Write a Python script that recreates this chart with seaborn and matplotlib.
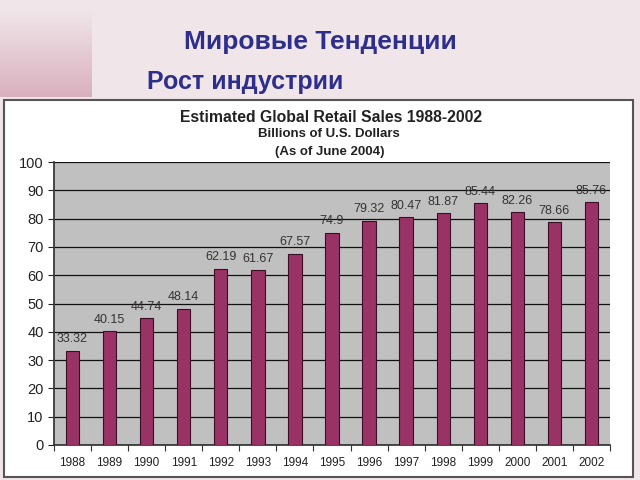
import numpy as np
import pandas as pd
import matplotlib
matplotlib.use("Agg")
import matplotlib.pyplot as plt
import seaborn as sns
from matplotlib.patches import Rectangle
from matplotlib import font_manager

years = ["1988", "1989", "1990", "1991", "1992", "1993", "1994", "1995",
         "1996", "1997", "1998", "1999", "2000", "2001", "2002"]
sales = [33.32, 40.15, 44.74, 48.14, 62.19, 61.67, 67.57, 74.9,
         79.32, 80.47, 81.87, 85.44, 82.26, 78.66, 85.76]
labels = ["33.32", "40.15", "44.74", "48.14", "62.19", "61.67", "67.57", "74.9",
          "79.32", "80.47", "81.87", "85.44", "82.26", "78.66", "85.76"]
yticks = [0, 10, 20, 30, 40, 50, 60, 70, 80, 90, 100]

df = pd.DataFrame({"year": years, "sales": sales})

sns.set_theme(style="white")
plt.rcParams['font.family'] = ['Liberation Sans', 'DejaVu Sans']

names = {f.name for f in font_manager.fontManager.ttflist}
narrow = "Liberation Sans Narrow" in names

W, H = 640, 480
fig = plt.figure(figsize=(6.4, 4.8), dpi=100)
bg = "#f0e6e9"
fig.patch.set_facecolor(bg)

# gradient block top-left
gax = fig.add_axes([0, 1 - 97 / H, 92 / W, 87 / H])
c0 = np.array(matplotlib.colors.to_rgb(bg))
c1 = np.array(matplotlib.colors.to_rgb("#d9b0bd"))
t = np.linspace(0, 1, 100)[:, None]
grad = c0[None, :] * (1 - t) + c1[None, :] * t
gax.imshow(grad[:, None, :], aspect="auto", extent=[0, 1, 0, 1])
gax.axis("off")

# white chart panel
fig.patches.append(Rectangle((4 / W, 3 / H), 629 / W, (480 - 100 - 3) / H,
                             transform=fig.transFigure, facecolor="white",
                             edgecolor="#555555", linewidth=1.5, zorder=-5))

title_color = "#2e2e8c"
if narrow:
    tfam = ['Liberation Sans Narrow', 'Liberation Sans']
    s1, s2 = 21, 19
else:
    tfam = ['Liberation Sans', 'DejaVu Sans']
    s1, s2 = 19, 18
fig.text(320 / W, 1 - 42 / H, "Мировые Тенденции", ha="center", va="center",
         fontsize=s1, fontweight="bold", color=title_color, family=tfam)
fig.text(245 / W, 1 - 82 / H, "Рост индустрии", ha="center", va="center",
         fontsize=s2, fontweight="bold", color=title_color, family=tfam)

fig.text(331 / W, 1 - 117 / H, "Estimated Global Retail Sales 1988-2002",
         ha="center", va="center", fontsize=11.3, fontweight="bold", color="#222222")
fig.text(329 / W, 1 - 134 / H, "Billions of U.S. Dollars",
         ha="center", va="center", fontsize=9.5, fontweight="bold", color="#222222")
fig.text(330 / W, 1 - 152 / H, "(As of June 2004)",
         ha="center", va="center", fontsize=9.5, fontweight="bold", color="#222222")

ax = fig.add_axes([54 / W, 1 - 445 / H, (610 - 54) / W, (445 - 162) / H])
ax.set_zorder(2)
ax.set_facecolor("#c0c0c0")
sns.barplot(data=df, x="year", y="sales", color="#993366", width=0.36,
            edgecolor="#3a0f25", linewidth=0.8, saturation=1, ax=ax, zorder=3)
for i, (v, lab) in enumerate(zip(sales, labels)):
    ax.text(i, v + 2.0, lab, ha="center", va="bottom", fontsize=9, color="#333333", zorder=4)

ax.set_ylim(0, 100)
ax.set_xlim(-0.5, len(years) - 0.5)
ax.set_yticks(yticks)
ax.yaxis.grid(True, color="#111111", linewidth=0.9, zorder=1)
ax.set_axisbelow(True)
ax.set_xlabel("")
ax.set_ylabel("")
for s in ["top", "right"]:
    ax.spines[s].set_visible(False)
ax.spines["left"].set_color("#333333")
ax.spines["bottom"].set_color("#333333")
ax.tick_params(axis="y", labelsize=10.5, colors="#222222", left=True, length=4, width=0.8)
ax.tick_params(axis="x", labelsize=8.5, colors="#222222", bottom=False, length=0, pad=9)
ax.set_xticks(np.arange(-0.5, len(years), 1.0), minor=True)
ax.tick_params(axis="x", which="minor", bottom=True, length=4, width=0.8, color="#333333")

fig.savefig("out.png", dpi=100, facecolor=fig.get_facecolor())
